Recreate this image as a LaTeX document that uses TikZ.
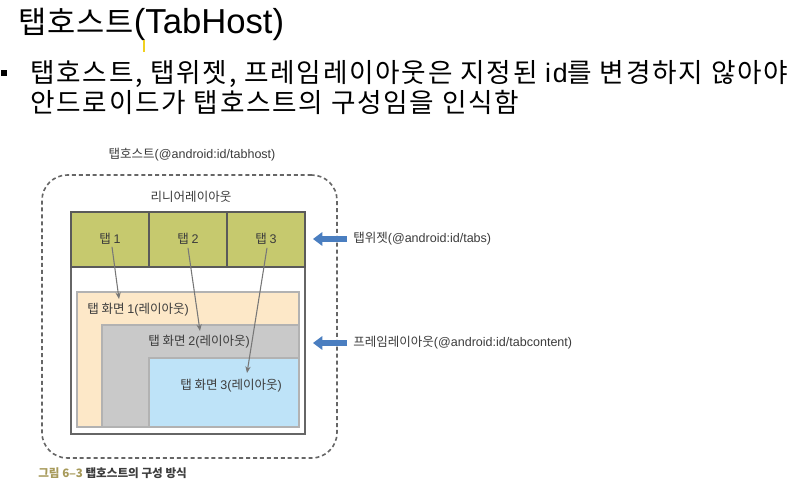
\documentclass[tikz,border=0pt]{standalone}
\usepackage{fontspec}
\setmainfont{Noto Sans CJK KR}
\newfontfamily\lat{Liberation Sans}
\newfontfamily\krt[LetterSpace=3]{Noto Sans CJK KR}
\newfontfamily\krw[LetterSpace=6.5]{Noto Sans CJK KR}
\newfontfamily\latw[LetterSpace=6.5]{Liberation Sans}
\usetikzlibrary{arrows.meta}

\definecolor{tabfill}{HTML}{C6C96E}
\definecolor{scrA}{HTML}{FDE8C8}
\definecolor{scrB}{HTML}{C9C9C9}
\definecolor{scrC}{HTML}{BEE3F8}
\definecolor{frameln}{HTML}{5A5A5A}
\definecolor{arrowblue}{HTML}{4A7EC0}
\definecolor{capgold}{HTML}{A79A5A}
\definecolor{txtgray}{HTML}{3C3C3C}
\definecolor{connln}{HTML}{777777}
\definecolor{cursor}{HTML}{F0D020}

\tikzset{
  x=0.75pt, y=-0.75pt,
  box/.style={anchor=north west, inner sep=0pt, outer sep=0pt},
  cell/.style={box, draw=frameln, line width=1.4pt, fill=tabfill,
    minimum width=78*0.75pt, minimum height=55*0.75pt},
  screen/.style={box, draw=black!30, line width=0.8pt},
  small/.style={text=txtgray, inner sep=0pt, font=\fontsize{9.4pt}{11pt}\selectfont},
  conn/.style={draw=connln, line width=0.8pt, -{Stealth[length=5pt,width=4pt]}},
  bluearrow/.style={draw=arrowblue, line width=3.8pt,
    -{Triangle[length=7pt,width=10pt]}},
}

\begin{document}
\begin{tikzpicture}
\useasboundingbox (0,0) rectangle (808,493);
\fill[white] (0,0) rectangle (808,493);

% heading and bullet text
\node[anchor=base west, inner sep=0pt, font=\fontsize{23pt}{27pt}\krt]
  (title) at (18,33) {탭호스트{\fontsize{26pt}{27pt}\lat(TabHost)}};
\draw[cursor, line width=1.6pt] (144,40) -- (144,52);
\node[fill=black, minimum size=4.5pt, inner sep=0pt] (bullet) at (4,73) {};
\node[anchor=base west, inner sep=0pt, font=\fontsize{20pt}{24pt}\krw]
  (line1) at (30,82) {탭호스트, 탭위젯, 프레임레이아웃은 지정된 {\latw id}를 변경하지 않아야};
\node[anchor=base west, inner sep=0pt, font=\fontsize{20pt}{24pt}\krw]
  (line2) at (30,112) {안드로이드가 탭호스트의 구성임을 인식함};

% tab host container
\node[box, draw=black!60, dashed, dash pattern=on 3pt off 2.2pt, line width=1.2pt,
  rounded corners=19pt, minimum width=295*0.75pt, minimum height=283*0.75pt]
  (host) at (42,175) {};
\node[small] (hostlbl) at (192,155) {탭호스트{\lat(@android:id/tabhost)}};
\node[small] (linlbl) at (191,197) {리니어레이아웃};

% linear layout
\node[box, draw=black!60, fill=white, line width=1.2pt,
  minimum width=234*0.75pt, minimum height=222*0.75pt] (linear) at (71,212) {};

% tab widget cells
\node[cell] (tab1) at (71,212) {};
\node[cell] (tab2) at (149,212) {};
\node[cell] (tab3) at (227,212) {};
\node[small] (t1) at (110,239) {탭 {\lat 1}};
\node[small] (t2) at (188,239) {탭 {\lat 2}};
\node[small] (t3) at (266,239) {탭 {\lat 3}};

% frame layout screens
\node[screen, fill=scrA, minimum width=222*0.75pt, minimum height=135*0.75pt] (s1) at (77,292) {};
\node[screen, fill=scrB, minimum width=197*0.75pt, minimum height=102*0.75pt] (s2) at (102,325) {};
\node[screen, fill=scrC, minimum width=150*0.75pt, minimum height=69*0.75pt] (s3) at (149,358) {};
\node[small, anchor=west] (s1lbl) at (87,310) {탭 화면 {\lat 1(}레이아웃{\lat )}};
\node[small, anchor=west] (s2lbl) at (148,342) {탭 화면 {\lat 2(}레이아웃{\lat )}};
\node[small, anchor=west] (s3lbl) at (180,386) {탭 화면 {\lat 3(}레이아웃{\lat )}};

% tab-to-screen connectors
\coordinate (e1) at (119,299);
\coordinate (e2) at (200,331);
\coordinate (e3) at (247,373);
\draw[conn] ([xshift=2*0.75pt, yshift=-2*0.75pt]t1.south) -- (e1);
\draw[conn] ([yshift=-3*0.75pt]t2.south) -- (e2);
\draw[conn] ([xshift=1*0.75pt, yshift=-3*0.75pt]t3.south) -- (e3);

% side labels with pointers
\node[small, anchor=west] (tabslbl) at (353,239) {탭위젯{\lat(@android:id/tabs)}};
\node[small, anchor=west] (framelbl) at (353,343) {프레임레이아웃{\lat(@android:id/tabcontent)}};
\coordinate (p1) at (313,239);
\coordinate (p2) at (313,343);
\draw[bluearrow] ([xshift=-6*0.75pt]tabslbl.west) -- (p1);
\draw[bluearrow] ([xshift=-6*0.75pt]framelbl.west) -- (p2);

% caption
\node[anchor=west, inner sep=0pt, font=\fontsize{8.7pt}{10pt}\selectfont\bfseries]
  (caption) at (38,473) {\textcolor{capgold}{그림 6{\lat\bfseries –}3} \textcolor{txtgray}{탭호스트의 구성 방식}};
\end{tikzpicture}
\end{document}
